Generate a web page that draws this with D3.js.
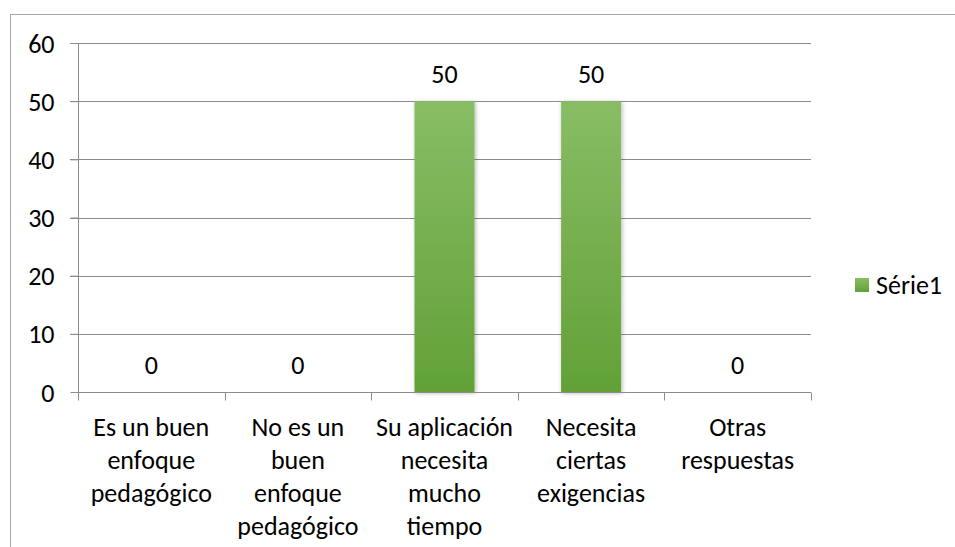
<!DOCTYPE html>
<html>
<head>
<meta charset="utf-8">
<script src="https://cdn.jsdelivr.net/npm/d3@7"></script>
<style>
  body { margin: 0; background: #fff; }
  text { font-family: Carlito, Lato, "Open Sans", sans-serif; fill: #000; }
</style>
</head>
<body>
<div id="chart"></div>
<script>
var categories = [
  ["Es un buen", "enfoque", "pedagógico"],
  ["No es un", "buen", "enfoque", "pedagógico"],
  ["Su aplicación", "necesita", "mucho", "tiempo"],
  ["Necesita", "ciertas", "exigencias"],
  ["Otras", "respuestas"]
];
var values = [0, 0, 50, 50, 0];
var yTicks = [0, 10, 20, 30, 40, 50, 60];
var seriesName = "Série1";

var width = 955, height = 547;
var margin = {left: 78, right: 144, top: 43, bottom: 155};
var fs = 26;

var svg = d3.select("#chart").append("svg")
    .attr("width", width)
    .attr("height", height);

var defs = svg.append("defs");
var grad = defs.append("linearGradient")
    .attr("id", "barGrad")
    .attr("x1", 0).attr("y1", 0).attr("x2", 0).attr("y2", 1);
grad.append("stop").attr("offset", "0%").attr("stop-color", "#88bd65");
grad.append("stop").attr("offset", "100%").attr("stop-color", "#62a137");

var shadow = defs.append("filter").attr("id", "shadow")
    .attr("x", "-20%").attr("y", "-10%").attr("width", "140%").attr("height", "120%");
shadow.append("feDropShadow")
    .attr("dx", 1).attr("dy", 1).attr("stdDeviation", 2)
    .attr("flood-color", "#000").attr("flood-opacity", 0.3);

// outer chart border (only top & left show in the picture)
svg.append("rect")
    .attr("x", 10.5).attr("y", 14.5)
    .attr("width", 1000).attr("height", 600)
    .attr("fill", "none").attr("stroke", "#a6a6a6");

var x = d3.scaleBand()
    .domain(d3.range(categories.length))
    .range([margin.left, width - margin.right])
    .paddingInner(0)
    .paddingOuter(0);

var y = d3.scaleLinear()
    .domain([0, 60])
    .range([height - margin.bottom, margin.top]);

// gridlines
svg.append("g")
    .selectAll("line")
    .data(yTicks.filter(function(d) { return d > 0; }))
    .enter().append("line")
    .attr("x1", margin.left - 8)
    .attr("x2", width - margin.right)
    .attr("y1", function(d) { return Math.round(y(d)) + 0.5; })
    .attr("y2", function(d) { return Math.round(y(d)) + 0.5; })
    .attr("stroke", "#8c8c8c");

// y axis
var yAxis = svg.append("g")
    .attr("transform", "translate(" + (margin.left + 0.5) + ",0)")
    .call(d3.axisLeft(y).tickValues(yTicks).tickSize(8).tickPadding(16));
yAxis.select(".domain").attr("stroke", "#8c8c8c").attr("d", "M0," + y(60) + "V" + y(0));
yAxis.selectAll(".tick line").attr("stroke", "#8c8c8c");
yAxis.selectAll(".tick text").style("font-size", fs + "px").attr("dy", "0.35em");

// bars
var bw = 60;
svg.append("g")
    .selectAll("rect")
    .data(values)
    .enter().append("rect")
    .attr("x", function(d, i) { return x(i) + x.bandwidth() / 2 - bw / 2; })
    .attr("y", function(d) { return y(d); })
    .attr("width", bw)
    .attr("height", function(d) { return y(0) - y(d); })
    .attr("fill", "url(#barGrad)")
    .attr("filter", "url(#shadow)");

// x axis
var xAxisY = Math.round(y(0)) + 0.5;
var xg = svg.append("g");
xg.append("line")
    .attr("x1", margin.left).attr("x2", width - margin.right)
    .attr("y1", xAxisY).attr("y2", xAxisY)
    .attr("stroke", "#8c8c8c");
xg.selectAll("line.tk")
    .data(d3.range(categories.length + 1))
    .enter().append("line")
    .attr("class", "tk")
    .attr("x1", function(i) { return Math.round(margin.left + i * x.bandwidth()) + 0.5; })
    .attr("x2", function(i) { return Math.round(margin.left + i * x.bandwidth()) + 0.5; })
    .attr("y1", xAxisY).attr("y2", xAxisY + 8)
    .attr("stroke", "#8c8c8c");

// category labels
var lab = svg.append("g").selectAll("text")
    .data(categories)
    .enter().append("text")
    .attr("text-anchor", "middle")
    .style("font-size", fs + "px");
lab.each(function(lines, i) {
  d3.select(this).selectAll("tspan")
    .data(lines)
    .enter().append("tspan")
    .attr("x", x(i) + x.bandwidth() / 2)
    .attr("y", function(d, j) { return 436 + j * 33; })
    .text(function(d) { return d; });
});

// value labels
svg.append("g").selectAll("text")
    .data(values)
    .enter().append("text")
    .attr("text-anchor", "middle")
    .attr("x", function(d, i) { return x(i) + x.bandwidth() / 2; })
    .attr("y", function(d) { return y(d) - 18; })
    .style("font-size", fs + "px")
    .text(function(d) { return d; });

// legend
var leg = svg.append("g").attr("transform", "translate(855,278)");
leg.append("rect").attr("width", 14).attr("height", 14).attr("fill", "url(#barGrad)");
leg.append("text").attr("x", 21).attr("y", 7).attr("dy", "0.35em")
    .style("font-size", fs + "px").text(seriesName);
</script>
</body>
</html>
